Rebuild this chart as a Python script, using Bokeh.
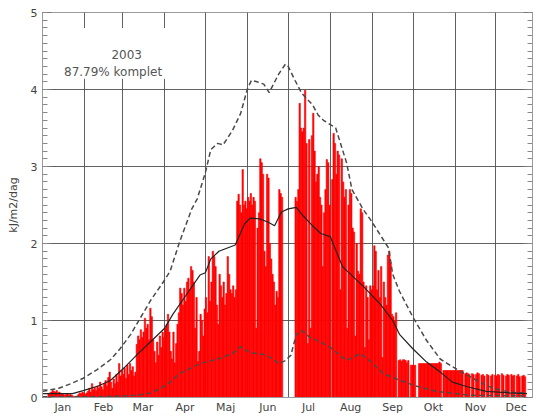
from bokeh.plotting import figure
from bokeh.models import (LinearAxis, FixedTicker, SingleIntervalTicker,
                          BoxAnnotation, Label, ColumnDataSource, Range1d,
                          CustomJSTickFormatter)
from bokeh.embed import file_html
from bokeh.resources import INLINE

# ---------------- data ----------------
month_names = ["Jan", "Feb", "Mar", "Apr", "Maj", "Jun",
               "Jul", "Aug", "Sep", "Okt", "Nov", "Dec"]
month_days = [31, 28, 31, 30, 31, 30, 31, 31, 30, 31, 30, 31]

title_year = "2003"
title_complete = "87.79% komplet"
y_label = "kJ/m2/dag"

# daily values (kJ/m2/dag), None = missing
jan = [None, None, None, None, 0.05, 0.06, 0.07, 0.09, 0.08, 0.07, 0.09, 0.06,
       0.07, 0.05, 0.05, 0.04, 0.03, 0.04, 0.05, 0.03, 0.04, 0.03, 0.02, 0.01,
       0.01, 0.02, 0.04, 0.06, 0.05, 0.07, 0.06]
feb = [0.04, 0.06, 0.08, 0.12, 0.07, 0.18, 0.1, 0.13, 0.09, 0.15, 0.12, 0.2,
       0.14, 0.1, 0.18, 0.22, 0.15, 0.26, 0.33, 0.2, 0.12, 0.24, 0.18, 0.3,
       0.2, 0.44, 0.28, 0.35]
mar = [0.3, 0.38, 0.25, 0.42, 0.3, 0.44, 0.35, 0.4, 0.28, 0.33, 0.69, 0.8,
       0.75, 0.88, 0.78, 0.85, 1.03, 0.9, 0.95, 0.75, 1.16, 1.05, 0.75, 0.6,
       0.45, 0.72, 0.55, 0.8, 0.65, 0.85, 0.78]
apr = [0.9, 0.95, 1.08, 0.85, 0.6, 0.5, 0.85, 0.45, 0.7, 0.95, 1.1, 1.42,
       1.35, 1.2, 1.42, 1.25, 1.5, 1.55, 1.4, 1.7, 1.65, 1.5, 0.9, 1.3,
       0.47, 0.6, 1.08, 1.0, 0.8, 1.15]
may = [1.3, 1.1, 1.83, 1.25, 1.5, 1.9, 1.83, 1.7, 1.2, 0.95, 1.6, 1.45,
       1.3, 1.5, 1.2, 1.35, 1.83, 1.6, 1.4, 1.35, 1.45, 1.3, 1.4, 2.55,
       2.64, 2.5, 2.4, 2.96, 2.5, 2.55, 2.45]
jun = [2.6, 2.55, 2.65, 2.5, 2.6, 2.55, 0.9, 2.2, 2.4, 3.1, 3.05, 2.9,
       1.9, 1.7, 2.9, 2.85, 2.0, 1.8, 1.6, 1.5, 1.2, 1.38, 1.3, 2.7,
       2.65, 2.6, None, None, None, None]
jul = [None, None, None, None, None, 2.6, 2.55, 2.7, 3.82, 3.5, 3.45, 3.5,
       3.99, 3.3, 0.7, 3.35, 0.9, 3.4, 3.69, 3.2, 2.8, 2.9, 3.0, 2.6,
       2.5, 1.7, 2.4, 2.7, 3.09, 3.05, 2.5]
aug = [None, 2.83, 3.43, 3.3, 2.9, 3.2, 3.15, 1.4, 3.1, 2.8, 2.6, 2.7,
       0.9, 2.5, 2.7, 2.65, 2.2, 2.15, 0.8, 2.0, 1.64, 1.6, 2.45, 2.4,
       1.5, 0.65, 1.45, 1.3, 0.75, 1.45, 1.4]
sep = [1.45, 1.97, 1.9, 1.4, 1.65, 1.3, 1.7, 0.52, 1.5, 1.3, 1.2, 1.85,
       1.9, 1.75, 1.08, 1.05, 1.0, 1.1, None, 0.48, 0.49, 0.47, 0.49, 0.49,
       0.48, 0.45, 0.48, None, 0.42, 0.42]
okt = [0.42, 0.42, None, None, 0.44, 0.44, 0.44, 0.44, 0.44, 0.44, 0.44, 0.44,
       0.44, 0.44, 0.44, 0.44, 0.44, 0.44, 0.44, 0.46, 0.44, None, 0.35, 0.35,
       0.35, 0.35, 0.35, 0.35, 0.35, 0.35, 0.35]
nov = [0.35, 0.35, 0.35, 0.35, 0.35, 0.35, None, 0.31, 0.32, 0.31, 0.3, None,
       0.31, 0.3, None, 0.3, 0.32, 0.31, None, 0.29, 0.3, 0.28, None, 0.3,
       0.29, None, 0.28, 0.3, None, 0.29]
dec = [0.28, 0.3, 0.29, None, 0.31, 0.29, None, 0.28, 0.3, 0.29, None, 0.3,
       0.28, 0.29, None, 0.28, 0.3, 0.27, None, 0.28, 0.29, 0.27, None, None,
       None, None, None, None, None, None, None]

# upper dashed curve (day of year, value)
upper_days = [0, 12, 21, 30, 40, 50, 57, 65, 72, 80, 89, 94, 101, 110, 114,
              120, 124, 129, 133, 140, 146, 151, 154, 158, 163, 167, 174, 179,
              181, 186, 191, 199, 203, 207, 216, 224, 228, 236, 242, 255, 258,
              263, 273, 283, 293, 302, 313, 322, 332, 344, 357]
upper_vals = [0.08, 0.12, 0.18, 0.25, 0.36, 0.49, 0.63, 0.82, 1.03, 1.27, 1.5,
              1.64, 2.02, 2.45, 2.58, 2.92, 3.22, 3.3, 3.28, 3.47, 3.69, 4.01,
              4.12, 4.1, 4.07, 3.96, 4.2, 4.33, 4.3, 4.12, 3.95, 3.8, 3.67,
              3.6, 3.5, 3.05, 2.7, 2.45, 2.3, 1.94, 1.6, 1.38, 1.04, 0.74,
              0.5, 0.4, 0.29, 0.2, 0.12, 0.07, 0.06]

# mean (solid) curve
mean_days = [0, 12, 22, 30, 41, 50, 61, 71, 80, 90, 96, 107, 116, 120, 124,
             130, 142, 149, 153, 160, 166, 171, 176, 181, 187, 192, 199, 205,
             212, 221, 236, 249, 258, 263, 273, 283, 293, 302, 313, 327, 344,
             357]
mean_vals = [0.05, 0.05, 0.05, 0.09, 0.15, 0.22, 0.4, 0.58, 0.73, 0.9, 1.08,
             1.36, 1.59, 1.62, 1.8, 1.9, 1.98, 2.26, 2.33, 2.32, 2.28, 2.23,
             2.41, 2.45, 2.47, 2.36, 2.23, 2.13, 2.09, 1.7, 1.45, 1.21, 1.0,
             0.82, 0.63, 0.46, 0.33, 0.2, 0.14, 0.08, 0.06, 0.05]

# lower dashed curve
lower_days = [0, 40, 60, 70, 80, 87, 92, 101, 116, 131, 140, 146, 153, 163,
              170, 174, 179, 183, 187, 191, 197, 205, 212, 224, 234, 241, 251,
              261, 273, 290, 315, 357]
lower_vals = [0.01, 0.01, 0.02, 0.03, 0.06, 0.12, 0.17, 0.31, 0.44, 0.51,
              0.57, 0.66, 0.58, 0.56, 0.5, 0.44, 0.48, 0.55, 0.82, 0.87, 0.78,
              0.72, 0.65, 0.48, 0.57, 0.48, 0.31, 0.24, 0.16, 0.08, 0.03, 0.02]

# ---------------- derived ----------------
daily = jan + feb + mar + apr + may + jun + jul + aug + sep + okt + nov + dec
bar_x = [i + 0.5 for i, v in enumerate(daily) if v is not None]
bar_top = [v for v in daily if v is not None]

bounds = [0]
for n in month_days:
    bounds.append(bounds[-1] + n)
mids = [int((bounds[i] + bounds[i + 1]) // 2) for i in range(12)]

FONT = "DejaVu Sans"
TXT = "#444444"
AX = "#9a9a9a"

p = figure(width=537, height=416, x_range=Range1d(0, 361), y_range=Range1d(0, 5),
           output_backend="svg", toolbar_location=None,
           min_border_left=42, min_border_right=5, min_border_top=12,
           min_border_bottom=16)
p.background_fill_color = "white"
p.border_fill_color = "white"
p.outline_line_color = AX

# grid
p.xgrid.ticker = FixedTicker(ticks=bounds)
p.ygrid.ticker = FixedTicker(ticks=[1, 2, 3, 4])
for g in (p.xgrid, p.ygrid):
    g.grid_line_color = "#505050"
    g.grid_line_width = 1
    g.grid_line_alpha = 0.9

# bottom axis: month labels
xa = p.xaxis[0]
xa.ticker = FixedTicker(ticks=mids)
xa.major_label_overrides = {m: name for m, name in zip(mids, month_names)}
xa.major_tick_in = 0
xa.major_tick_out = 0
xa.minor_tick_in = 0
xa.minor_tick_out = 0
xa.major_label_standoff = 3
xa.axis_line_color = AX

# left axis
ya = p.yaxis[0]
ya.ticker = SingleIntervalTicker(interval=1, num_minor_ticks=10)
ya.major_tick_in = 9
ya.major_tick_out = 0
ya.minor_tick_in = 5
ya.minor_tick_out = 0
ya.major_label_standoff = 5
ya.axis_label = y_label
ya.axis_label_standoff = 8
ya.axis_line_color = AX
ya.major_tick_line_color = "#777777"
ya.minor_tick_line_color = "#888888"

for ax in (xa, ya):
    ax.major_label_text_font = FONT
    ax.major_label_text_font_size = "11px"
    ax.major_label_text_color = TXT
    ax.axis_label_text_font = FONT
    ax.axis_label_text_font_size = "11px"
    ax.axis_label_text_font_style = "normal"
    ax.axis_label_text_color = TXT

# right axis (mirror, ticks only)
ra = LinearAxis(ticker=SingleIntervalTicker(interval=1, num_minor_ticks=10),
                formatter=CustomJSTickFormatter(code="return ''"))
ra.major_tick_in = 9
ra.major_tick_out = 0
ra.minor_tick_in = 5
ra.minor_tick_out = 0
ra.major_label_standoff = 0
ra.axis_line_color = AX
ra.major_tick_line_color = "#777777"
ra.minor_tick_line_color = "#888888"
p.add_layout(ra, "right")

# bars
src = ColumnDataSource(dict(x=bar_x, top=bar_top))
p.vbar(x="x", top="top", bottom=0, width=1, source=src,
       fill_color="#ff0000", line_color="#ff0000", line_width=0.6)

# curves
p.line(upper_days, upper_vals, line_color="#4a4a4a", line_width=1.5,
       line_dash="5 3")
p.line(lower_days, lower_vals, line_color="#4a4a4a", line_width=1.5,
       line_dash="5 3")
p.line(mean_days, mean_vals, line_color="#222222", line_width=1.2)

# legend box
p.add_layout(BoxAnnotation(left=6, right=105, bottom=4.14, top=4.8,
                           fill_color="white", fill_alpha=1.0, line_color=None))
p.add_layout(Label(x=62, y=4.46, text=title_year, text_align="center",
                   text_baseline="middle", text_font=FONT,
                   text_font_size="12px", text_color="#555555"))
p.add_layout(Label(x=52, y=4.23, text=title_complete, text_align="center",
                   text_baseline="middle", text_font=FONT,
                   text_font_size="12px", text_color="#555555"))

open("out.html", "w").write(file_html(p, INLINE))
